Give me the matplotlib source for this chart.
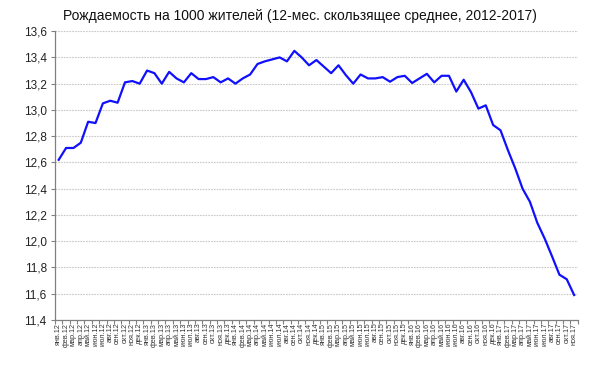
import matplotlib
matplotlib.use("Agg")
import matplotlib.pyplot as plt
import numpy as np

plt.rcParams['font.family'] = ['Liberation Sans', 'DejaVu Sans']

months = ["янв", "фев", "мар", "апр", "май", "июн", "июл", "авг", "сен", "окт", "ноя", "дек"]
years = ["12", "13", "14", "15", "16", "17"]
labels = [f"{m}.{y}" for y in years for m in months][:71]

values = [
    12.62, 12.71, 12.71, 12.75, 12.91, 12.90, 13.05, 13.07, 13.055, 13.21,
    13.22, 13.20, 13.30, 13.28, 13.20, 13.29, 13.24, 13.21, 13.28, 13.235,
    13.235, 13.25, 13.21, 13.24, 13.20, 13.24, 13.27, 13.35, 13.37, 13.385,
    13.40, 13.37, 13.45, 13.40, 13.34, 13.38, 13.33, 13.28, 13.34, 13.265,
    13.20, 13.27, 13.24, 13.24, 13.25, 13.215, 13.25, 13.26, 13.205, 13.24,
    13.275, 13.21, 13.26, 13.26, 13.14, 13.23, 13.135, 13.01, 13.035, 12.885,
    12.845, 12.695, 12.555, 12.40, 12.30, 12.14, 12.02, 11.885, 11.745, 11.71,
    11.59,
]

title = "Рождаемость на 1000 жителей (12-мес. скользящее среднее, 2012-2017)"
yticks = [11.4, 11.6, 11.8, 12.0, 12.2, 12.4, 12.6, 12.8, 13.0, 13.2, 13.4, 13.6]

fig = plt.figure(figsize=(6, 3.8), dpi=100)
ax = fig.add_axes([0.0917, 0.158, 0.8713, 0.76])

x = np.arange(len(values))
ax.plot(x, values, color="#1010ff", lw=1.6, zorder=3)

ax.set_xlim(-0.5, len(values) - 0.5)
ax.set_ylim(11.4, 13.6)
ax.set_yticks(yticks)
ax.set_yticklabels([f"{v:.1f}".replace(".", ",") for v in yticks], fontsize=8.5, color="#222222")
ax.yaxis.grid(True, color="#c8c8c8", lw=0.8, ls=(0, (1.5, 1)))
ax.set_axisbelow(True)

ax.set_xticks(x)
ax.set_xticklabels(labels, rotation=90, fontsize=5.2, color="#333333")
ax.set_xticks(np.arange(len(values) + 1) - 0.5, minor=True)
ax.tick_params(axis="x", which="major", length=0, pad=2)
ax.tick_params(axis="x", which="minor", length=3, color="#808080", width=0.8)
ax.tick_params(axis="y", length=3, color="#808080", width=0.8, pad=3)

for s in ["top", "right"]:
    ax.spines[s].set_visible(False)
for s in ["left", "bottom"]:
    ax.spines[s].set_color("#808080")
    ax.spines[s].set_linewidth(0.9)

fig.text(0.5, 0.958, title, ha="center", va="center", fontsize=10, color="#111111")

fig.savefig("out.png", dpi=100)
